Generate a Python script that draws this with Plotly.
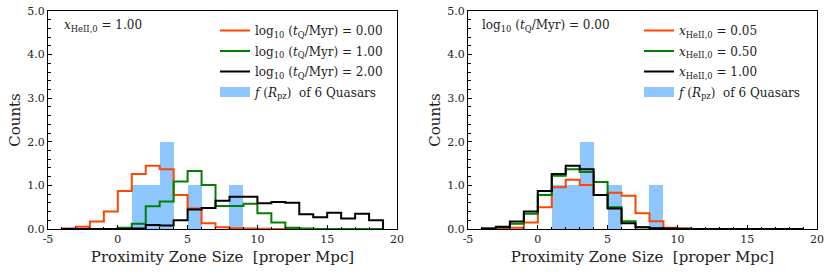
import plotly.graph_objects as go

# ---------------- data ----------------
bin_edges = list(range(-4, 20))  # 23 bins of width 1 from -4 to 19

# left panel: x_HeII,0 = 1.00, different quasar lifetimes
left_tq0 = [0.01, 0.05, 0.17, 0.40, 0.87, 1.26, 1.45, 1.37, 0.78, 0.47, 0.13, 0.04, 0.02, 0.01, 0.005, 0, 0, 0, 0, 0, 0, 0, 0]
left_tq1 = [0, 0, 0, 0, 0.03, 0.12, 0.52, 0.63, 1.09, 1.33, 1.01, 0.53, 0.53, 0.58, 0.36, 0.15, 0.03, 0.01, 0, 0, 0, 0, 0]
left_tq2 = [0, 0, 0, 0, 0, 0.01, 0.09, 0.08, 0.20, 0.45, 0.48, 0.65, 0.74, 0.74, 0.59, 0.62, 0.60, 0.34, 0.27, 0.37, 0.24, 0.35, 0.20]

# right panel: log10(tQ/Myr) = 0.00, different initial HeII fractions
right_x005 = [0, 0.01, 0.03, 0.15, 0.50, 0.96, 1.13, 1.01, 0.78, 0.83, 0.76, 0.36, 0.18, 0.03, 0.01, 0, 0, 0, 0, 0, 0, 0, 0]
right_x050 = [0.01, 0.04, 0.12, 0.35, 0.78, 1.22, 1.37, 1.31, 1.08, 0.50, 0.18, 0.04, 0.01, 0, 0, 0, 0, 0, 0, 0, 0, 0, 0]
right_x100 = left_tq0

# observed proximity zone sizes of 6 quasars (bin left edges and counts)
quasar_bin_left = [1, 2, 3, 5, 8]
quasar_counts = [1, 1, 2, 1, 1]

left_labels = ["log<sub>10</sub> (<i>t</i><sub>Q</sub>/Myr) = 0.00",
               "log<sub>10</sub> (<i>t</i><sub>Q</sub>/Myr) = 1.00",
               "log<sub>10</sub> (<i>t</i><sub>Q</sub>/Myr) = 2.00"]
right_labels = ["<i>x</i><sub>HeII,0</sub> = 0.05",
                "<i>x</i><sub>HeII,0</sub> = 0.50",
                "<i>x</i><sub>HeII,0</sub> = 1.00"]
quasar_label = "<i>f</i> (<i>R</i><sub>pz</sub>)  of 6 Quasars"
left_note = "<i>x</i><sub>HeII,0</sub> = 1.00"
right_note = "log<sub>10</sub> (<i>t</i><sub>Q</sub>/Myr) = 0.00"

x_tickvals = [-5, 0, 5, 10, 15, 20]
x_ticktext = ["-5", "0", "5", "10", "15", "20"]
y_tickvals = [0, 1, 2, 3, 4, 5]
y_ticktext = ["0.0", "1.0", "2.0", "3.0", "4.0", "5.0"]

line_colors = ["#ff4500", "#008000", "#000000"]
bar_color = "rgba(30,144,255,0.5)"
FONT = "DejaVu Serif"


def step_xy(edges, counts):
    xs = [edges[0]] + list(edges) + [edges[-1]]
    ys = [0] + list(counts) + [counts[-1], 0]
    return xs, ys[:len(xs)]


fig = go.Figure()

panels = [
    ("x", "y", "legend", [left_tq0, left_tq1, left_tq2], left_labels),
    ("x2", "y2", "legend2", [right_x005, right_x050, right_x100], right_labels),
]

for pi, (xa, ya, leg, series, labels) in enumerate(panels):
    fig.add_trace(go.Bar(
        x=[b + 0.5 for b in quasar_bin_left], y=quasar_counts, width=1,
        marker=dict(color=bar_color, line=dict(width=0)),
        xaxis=xa, yaxis=ya, showlegend=False, hoverinfo="skip"))
    for k, (s, lab, col) in enumerate(zip(series, labels, line_colors)):
        xs, ys = step_xy(bin_edges, s)
        fig.add_trace(go.Scatter(
            x=xs, y=ys, mode="lines", line=dict(color=col, width=2, shape="hv"),
            name=lab, legend=leg, legendgroup=f"p{pi}g{k}", xaxis=xa, yaxis=ya))
    # legend proxy for the blue histogram
    fig.add_trace(go.Scatter(
        x=[None], y=[None], mode="lines", line=dict(color=bar_color, width=10),
        name=quasar_label, legend=leg, legendgroup=f"p{pi}q", xaxis=xa, yaxis=ya))

ax_common = dict(
    range=[-5, 20], showline=True, mirror=True, linecolor="black", linewidth=1,
    ticks="inside", ticklen=4, tickcolor="black", tickwidth=1,
    tickvals=x_tickvals, ticktext=x_ticktext, automargin=False,
    minor=dict(ticks="inside", ticklen=2.5, dtick=1, tickcolor="black", tickwidth=1),
    showgrid=False, zeroline=False,
    tickfont=dict(family=FONT, size=11, color="#222"),
    title=dict(text="Proximity Zone Size  [proper Mpc]", font=dict(family=FONT, size=15, color="#222"), standoff=6),
)
ay_common = dict(
    range=[0, 5], showline=True, mirror=True, linecolor="black", linewidth=1,
    ticks="inside", ticklen=4, tickcolor="black", tickwidth=1,
    tickvals=y_tickvals, ticktext=y_ticktext, automargin=False,
    minor=dict(ticks="inside", ticklen=2.5, dtick=0.2, tickcolor="black", tickwidth=1),
    showgrid=False, zeroline=False,
    tickfont=dict(family=FONT, size=11, color="#222"),
    title=dict(text="Counts", font=dict(family=FONT, size=15, color="#222"), standoff=3),
)

leg_common = dict(font=dict(family=FONT, size=12, color="#222"), bgcolor="rgba(0,0,0,0)",
                  borderwidth=0, itemwidth=30, xanchor="left", yanchor="top",
                  traceorder="grouped", tracegroupgap=1.5)

fig.update_layout(
    width=831, height=275, margin=dict(l=0, r=0, t=0, b=0, autoexpand=False),
    paper_bgcolor="white", plot_bgcolor="white",
    bargap=0,
    xaxis=dict(domain=[48 / 831, 397 / 831], anchor="y", **ax_common),
    yaxis=dict(domain=[46 / 275, 264 / 275], anchor="x", **ay_common),
    xaxis2=dict(domain=[468 / 831, 817 / 831], anchor="y2", **ax_common),
    yaxis2=dict(domain=[46 / 275, 264 / 275], anchor="x2", **ay_common),
    legend=dict(x=215 / 831, y=(275 - 16) / 275, **leg_common),
    legend2=dict(x=639 / 831, y=(275 - 16) / 275, **leg_common),
    annotations=[
        dict(text=left_note, xref="x domain", yref="y domain", x=0.04, y=0.93,
             xanchor="left", yanchor="middle", showarrow=False,
             font=dict(family=FONT, size=12, color="#222")),
        dict(text=right_note, xref="x2 domain", yref="y2 domain", x=0.035, y=0.93,
             xanchor="left", yanchor="middle", showarrow=False,
             font=dict(family=FONT, size=12, color="#222")),
    ],
    showlegend=True,
)

fig.write_html("out.html", config={"displayModeBar": False},
               post_script="document.body.style.margin='0';")
